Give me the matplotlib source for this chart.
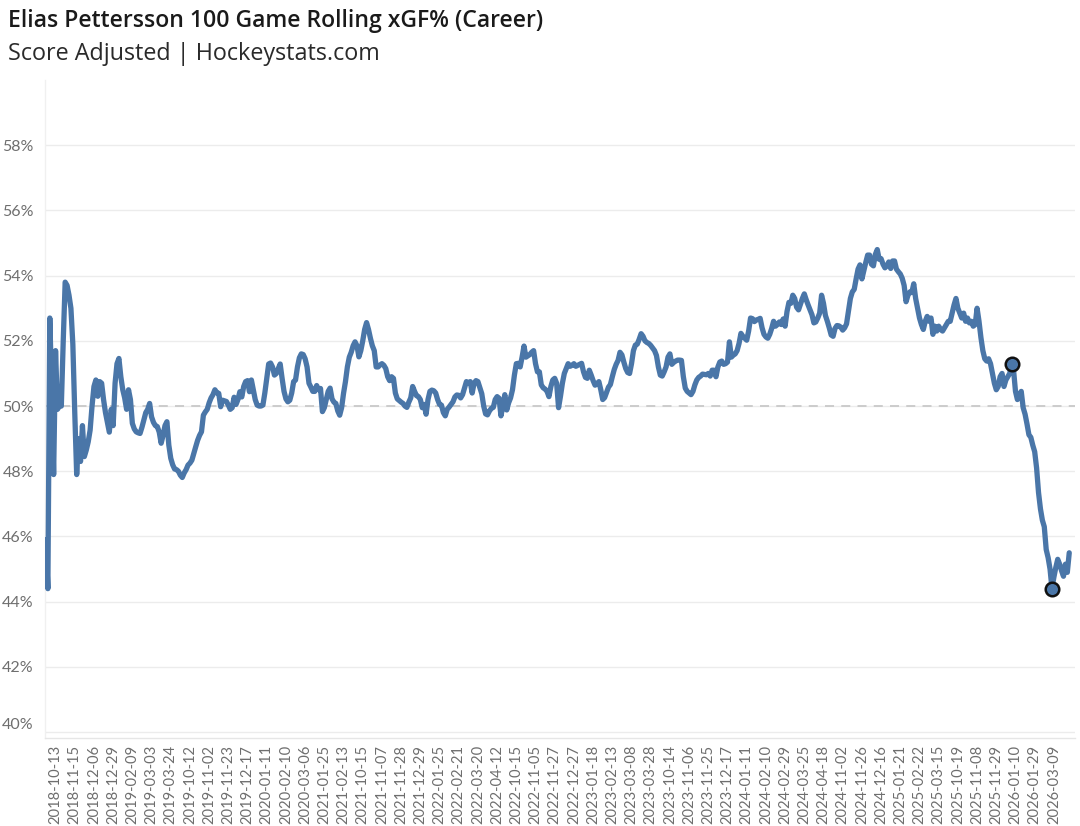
import matplotlib
matplotlib.use("Agg")
import matplotlib.pyplot as plt
import matplotlib.ticker as mticker
import numpy as np

title = "Elias Pettersson 100 Game Rolling xGF% (Career)"
subtitle = "Score Adjusted | Hockeystats.com"

# 100-game rolling xGF% (score adjusted), one value per career game
xgf = [
    45.9, 44.4, 52.7, 50.5, 47.9, 51.7, 49.9, 50.0, 50.0, 52.0,
    53.8, 53.7, 53.4, 53.0, 51.9, 49.8, 47.9, 49.0, 48.3, 49.4,
    48.45, 48.65, 48.9, 49.26, 50.0, 50.6, 50.8, 50.3, 50.75, 50.7,
    50.2, 49.8, 49.5, 49.2, 49.9, 49.4, 50.7, 51.3, 51.46, 50.9,
    50.5, 50.25, 49.9, 50.5, 50.2, 49.47, 49.3, 49.21, 49.18, 49.16,
    49.35, 49.57, 49.8, 49.9, 50.08, 49.67, 49.5, 49.4, 49.37, 49.2,
    48.86, 49.1, 49.4, 49.52, 48.8, 48.4, 48.2, 48.07, 48.05, 48.0,
    47.88, 47.81, 47.95, 48.05, 48.19, 48.25, 48.34, 48.55, 48.75, 48.95,
    49.1, 49.21, 49.72, 49.82, 49.9, 50.1, 50.25, 50.35, 50.5, 50.41,
    50.39, 49.98, 50.18, 50.16, 50.14, 50.03, 49.9, 49.95, 50.27, 50.05,
    50.2, 50.44, 50.28, 50.6, 50.75, 50.78, 50.44, 50.8, 50.5, 50.2,
    50.03, 50.0, 50.0, 50.03, 50.4, 50.85, 51.29, 51.32, 51.2, 50.95,
    51.0, 51.15, 51.29, 50.85, 50.45, 50.22, 50.13, 50.18, 50.4, 50.75,
    50.8, 51.2, 51.48, 51.6, 51.58, 51.45, 51.2, 50.7, 50.58, 50.45,
    50.45, 50.63, 50.5, 50.54, 49.83, 49.95, 50.2, 50.45, 50.55, 50.22,
    50.12, 50.08, 49.85, 49.72, 49.95, 50.39, 50.75, 51.2, 51.5, 51.65,
    51.85, 51.97, 51.85, 51.51, 51.7, 52.0, 52.35, 52.56, 52.35, 52.08,
    51.85, 51.7, 51.2, 51.2, 51.26, 51.3, 51.25, 51.15, 50.9, 50.78,
    50.9, 50.85, 50.4, 50.22, 50.17, 50.12, 50.08, 50.0, 49.96, 50.12,
    50.25, 50.6, 50.45, 50.32, 50.29, 50.2, 49.95, 50.05, 49.75, 50.2,
    50.45, 50.49, 50.47, 50.4, 50.2, 50.05, 50.03, 49.8, 49.7, 49.9,
    49.97, 50.05, 50.13, 50.28, 50.34, 50.33, 50.25, 50.35, 50.55, 50.75,
    50.7, 50.75, 50.4, 50.7, 50.78, 50.75, 50.56, 50.38, 50.0, 49.76,
    49.73, 49.85, 49.93, 49.96, 50.2, 50.29, 50.24, 49.7, 50.0, 50.35,
    49.88, 50.1, 50.25, 50.5, 50.95, 51.3, 51.31, 51.2, 51.5, 51.84,
    51.5, 51.54, 51.58, 51.65, 51.7, 51.3, 51.05, 51.05, 50.65, 50.56,
    50.52, 50.45, 50.29, 50.6, 50.8, 50.85, 50.7, 49.95, 50.3, 50.7,
    51.0, 51.15, 51.3, 51.22, 51.25, 51.3, 51.22, 51.25, 51.28, 51.31,
    51.05, 50.88, 50.85, 51.1, 50.95, 50.78, 50.64, 50.68, 50.75, 50.5,
    50.2, 50.26, 50.42, 50.58, 50.66, 50.9, 51.12, 51.28, 51.4, 51.65,
    51.57, 51.35, 51.15, 51.03, 51.0, 51.3, 51.7, 51.87, 51.9, 52.05,
    52.22, 52.14, 52.0, 51.95, 51.92, 51.86, 51.78, 51.7, 51.55, 51.2,
    50.95, 50.92, 51.05, 51.2, 51.5, 51.6, 51.28, 51.34, 51.38, 51.41,
    51.41, 51.4, 50.9, 50.55, 50.45, 50.4, 50.35, 50.45, 50.65, 50.8,
    50.88, 50.92, 50.98, 50.97, 50.96, 51.0, 50.92, 51.1, 51.1, 50.9,
    51.2, 51.35, 51.38, 51.28, 51.3, 51.35, 51.97, 51.5, 51.56, 51.6,
    51.7, 51.92, 52.23, 52.14, 52.08, 52.02, 52.3, 52.7, 52.68, 52.59,
    52.64, 52.66, 52.69, 52.4, 52.2, 52.12, 52.08, 52.2, 52.38, 52.6,
    52.45, 52.5, 52.58, 52.5, 52.67, 52.45, 52.9, 53.18, 53.15, 53.4,
    53.3, 53.03, 52.95, 53.12, 53.3, 53.44, 53.26, 53.1, 52.95, 52.8,
    52.55, 52.58, 52.7, 52.85, 53.4, 53.15, 52.78, 52.6, 52.4, 52.18,
    52.14, 52.38, 52.47, 52.46, 52.42, 52.33, 52.4, 52.52, 52.9, 53.3,
    53.5, 53.58, 53.9, 54.2, 54.33, 53.9, 54.15, 54.4, 54.63, 54.63,
    54.35, 54.3, 54.65, 54.8, 54.5, 54.52, 54.35, 54.24, 54.3, 54.42,
    54.22, 54.45, 54.45, 54.2, 54.12, 54.05, 53.92, 53.7, 53.2, 53.4,
    53.5, 53.48, 53.75, 53.3, 53.0, 52.7, 52.5, 52.35, 52.6, 52.75,
    52.6, 52.7, 52.2, 52.45, 52.3, 52.45, 52.35, 52.3, 52.4, 52.5,
    52.6, 52.6, 52.85, 53.1, 53.3, 53.0, 52.85, 52.7, 52.85, 52.6,
    52.7, 52.55, 52.6, 52.45, 52.5, 53.0, 52.6, 52.1, 51.7, 51.45,
    51.38, 51.45, 51.3, 51.0, 50.7, 50.5, 50.6, 50.9, 51.0, 50.6,
    50.8, 50.9, 51.0, 51.29, 51.1, 50.45, 50.2, 50.35, 50.45, 49.95,
    49.75, 49.45, 49.12, 49.04, 48.8, 48.6, 48.1, 47.35, 46.85, 46.5,
    46.3, 45.6, 45.35, 45.0, 44.4, 44.75, 45.05, 45.3, 45.15, 44.95,
    44.78, 45.15, 44.9, 45.5,
]

# highlighted games (game number)
highlight_games = [504, 525]

date_labels = [
    "2018-10-13", "2018-11-15", "2018-12-06", "2018-12-29", "2019-02-09",
    "2019-03-03", "2019-03-24", "2019-10-12", "2019-11-02", "2019-11-23",
    "2019-12-17", "2020-01-11", "2020-02-10", "2020-03-06", "2021-01-25",
    "2021-02-13", "2021-10-15", "2021-11-07", "2021-11-28", "2021-12-29",
    "2022-01-25", "2022-02-21", "2022-03-20", "2022-04-12", "2022-10-15",
    "2022-11-05", "2022-11-27", "2022-12-27", "2023-01-18", "2023-02-13",
    "2023-03-08", "2023-03-28", "2023-10-14", "2023-11-06", "2023-11-25",
    "2023-12-17", "2024-01-11", "2024-02-10", "2024-02-29", "2024-03-25",
    "2024-04-18", "2024-11-02", "2024-11-26", "2024-12-16", "2025-01-21",
    "2025-02-22", "2025-03-15", "2025-10-19", "2025-11-08", "2025-11-29",
    "2026-01-10", "2026-01-29", "2026-03-09",
]
label_first_game = 6
label_every = 10

y_ticks = [40, 42, 44, 46, 48, 50, 52, 54, 56, 58]

line_color = "#4a76a8"
grey_text = "#6e6e6e"

plt.rcParams["font.family"] = ["Lato", "DejaVu Sans"]

fig = plt.figure(figsize=(10.8, 8.26), dpi=100)
ax = fig.add_axes([45 / 1080, 1 - 738 / 826, (1075 - 45) / 1080, (738 - 80) / 826])

games = np.arange(1, len(xgf) + 1)
vals = np.array(xgf)

ax.plot(games, vals, color=line_color, lw=3.8, solid_joinstyle="round",
        solid_capstyle="round", zorder=3)
hg = np.array(highlight_games)
ax.scatter(hg, vals[hg - 1], s=95, color=line_color, edgecolor="#111111",
           linewidth=1.8, zorder=4)

ax.axhline(50, color="#c9c9c9", lw=1.3, ls=(0, (5, 4)), zorder=2)

ax.set_xlim(0.5, 537)
ax.set_ylim(39.82, 60.0)
ax.set_yticks(y_ticks)
ax.yaxis.set_major_formatter(mticker.FuncFormatter(lambda v, p: f"{v:.0f}%"))
ax.grid(axis="y", color="#ececec", lw=1.0, zorder=0)
ax.grid(axis="x", visible=False)

tick_pos = [label_first_game + label_every * i for i in range(len(date_labels))]
ax.set_xticks(tick_pos)
ax.set_xticklabels(date_labels, rotation=90, fontsize=10.6, color=grey_text,
                   family=["Lato", "DejaVu Sans"])
ax.tick_params(axis="x", length=0, pad=5)
ax.tick_params(axis="y", length=0, pad=8, labelsize=11.5, labelcolor=grey_text)

for lab in ax.get_yticklabels():
    if lab.get_text() == "40%":
        lab.set_va("bottom")

for side in ["top", "right"]:
    ax.spines[side].set_visible(False)
ax.spines["left"].set_color("#f0f0f0")
ax.spines["bottom"].set_color("#e6e6e6")
ax.spines["left"].set_linewidth(1.0)
ax.spines["bottom"].set_linewidth(1.0)

fig.text(8 / 1080, 1 - 21 / 826, title, fontsize=16.6, fontweight="semibold",
         color="#1a1a1a", va="center", ha="left",
         family=["Open Sans", "DejaVu Sans"])
fig.text(8 / 1080, 1 - 54 / 826, subtitle, fontsize=16.8, color="#2a2a2a",
         va="center", ha="left", family=["Open Sans", "DejaVu Sans"])

fig.savefig("out.png", dpi=100, facecolor="white")
